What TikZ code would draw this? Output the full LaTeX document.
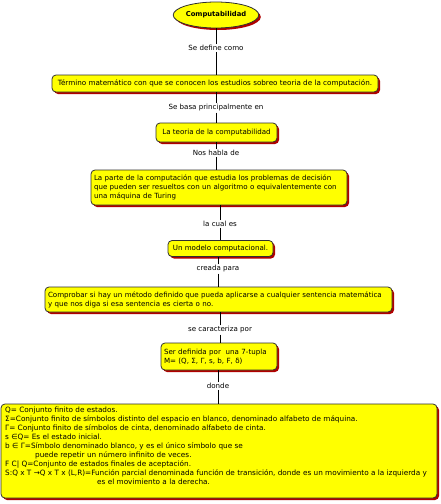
\documentclass[tikz,border=0pt]{standalone}
\usepackage{fontspec}
\setmainfont{DejaVu Sans}
\usetikzlibrary{shapes.geometric,shadows}
\definecolor{boxy}{HTML}{FFFF00}
\definecolor{shred}{HTML}{B00000}
\definecolor{edgec}{HTML}{303030}
\begin{document}
\begin{tikzpicture}[x=1pt,y=-1pt,
 box/.style={draw=edgec, line width=0.8pt, fill=boxy, rounded corners=4pt,
   general shadow={fill=shred, shadow xshift=2pt, shadow yshift=-2pt},
   font=\fontsize{7.1}{9}\selectfont, inner xsep=3pt, inner ysep=2pt},
 lab/.style={fill=white, font=\fontsize{7.1}{9}\selectfont, inner sep=1pt},
 conn/.style={draw=black, line width=0.6pt}]
\useasboundingbox (0,0) rectangle (440,504);
\fill[white] (0,0) rectangle (440,504);

\node[ellipse, draw=edgec, line width=0.8pt, fill=boxy,
  general shadow={fill=shred, shadow xshift=2pt, shadow yshift=-2pt},
  minimum width=80pt, minimum height=26pt, inner sep=0pt,
  font=\fontsize{6.8}{8}\selectfont\bfseries] (top) at (216,15) {Computabilidad};

\node[box, minimum width=326pt, minimum height=17pt, font=\fontsize{7.2}{9}\selectfont] (b1) at (215,83.5)
  {Término matemático con que se conocen los estudios sobreo teoria de la computación.};
\node[box, minimum width=121pt, minimum height=19pt] (b2) at (216.5,132.5)
  {La teoria de la computabilidad};
\node[box, text width=250pt, minimum height=35pt, align=left] (b3) at (219,187.5)
  {La parte de la computación que estudia los problemas de decisión\\
   que pueden ser resueltos con un algoritmo o equivalentemente con\\
   una máquina de Turing};
\node[box, minimum width=105pt, minimum height=16pt] (b4) at (220.5,248.5)
  {Un modelo computacional.};
\node[box, text width=341pt, minimum height=25pt, align=left] (b5) at (218.5,299.5)
  {Comprobar si hay un método definido que pueda aplicarse a cualquier sentencia matemática\\
   y que nos diga si esa sentencia es cierta o no.};
\node[box, text width=110pt, minimum height=27pt, align=left] (b6) at (219,356.5)
  {Ser definida por\ \ una 7-tupla\\ M= (Q, Σ, Γ, s, b, F, δ)};
\node[box, minimum width=436pt, minimum height=94pt] (b7) at (219,451) {};
\node[font=\fontsize{7.3}{9}\selectfont, align=left, anchor=north west, inner sep=0pt] (t7) at (5,406.5)
  {Q= Conjunto finito de estados.\\
   Σ=Conjunto finito de símbolos distinto del espacio en blanco, denominado alfabeto de máquina.\\
   Γ= Conjunto finito de símbolos de cinta, denominado alfabeto de cinta.\\
   s ∈Q= Es el estado inicial.\\
   b ∈ Γ=Símbolo denominado blanco, y es el único símbolo que se\\
   \hspace*{30pt}puede repetir un número infinito de veces.\\
   F C| Q=Conjunto de estados finales de aceptación.\\
   S:Q x T →Q x T x (L,R)=Función parcial denominada función de transición, donde es un movimiento a la izquierda y\\
   \hspace*{92pt}es el movimiento a la derecha.};

\node[lab] (l1) at (216,48) {Se define como};
\node[lab] (l2) at (216,108) {Se basa principalmente en};
\node[lab] (l3) at (216,153) {Nos habla de};
\node[lab] (l4) at (220,224) {la cual es};
\node[lab] (l5) at (218,269) {creada para};
\node[lab] (l6) at (220,330) {se caracteriza por};
\node[lab] (l7) at (218,386) {donde};

\draw[conn] (l1.north) -- (l1.north |- top.south);
\draw[conn] (l1.south) -- (l1.south |- b1.north);
\draw[conn] (l2.north) -- (l2.north |- b1.south);
\draw[conn] (l2.south) -- (l2.south |- b2.north);
\draw[conn] (l3.north) -- (l3.north |- b2.south);
\draw[conn] (l3.south) -- (l3.south |- b3.north);
\draw[conn] (l4.north) -- (l4.north |- b3.south);
\draw[conn] (l4.south) -- (l4.south |- b4.north);
\draw[conn] (l5.north) -- (l5.north |- b4.south);
\draw[conn] (l5.south) -- (l5.south |- b5.north);
\draw[conn] (l6.north) -- (l6.north |- b5.south);
\draw[conn] (l6.south) -- (l6.south |- b6.north);
\draw[conn] (l7.north) -- (l7.north |- b6.south);
\draw[conn] (l7.south) -- (l7.south |- b7.north);
\end{tikzpicture}
\end{document}
